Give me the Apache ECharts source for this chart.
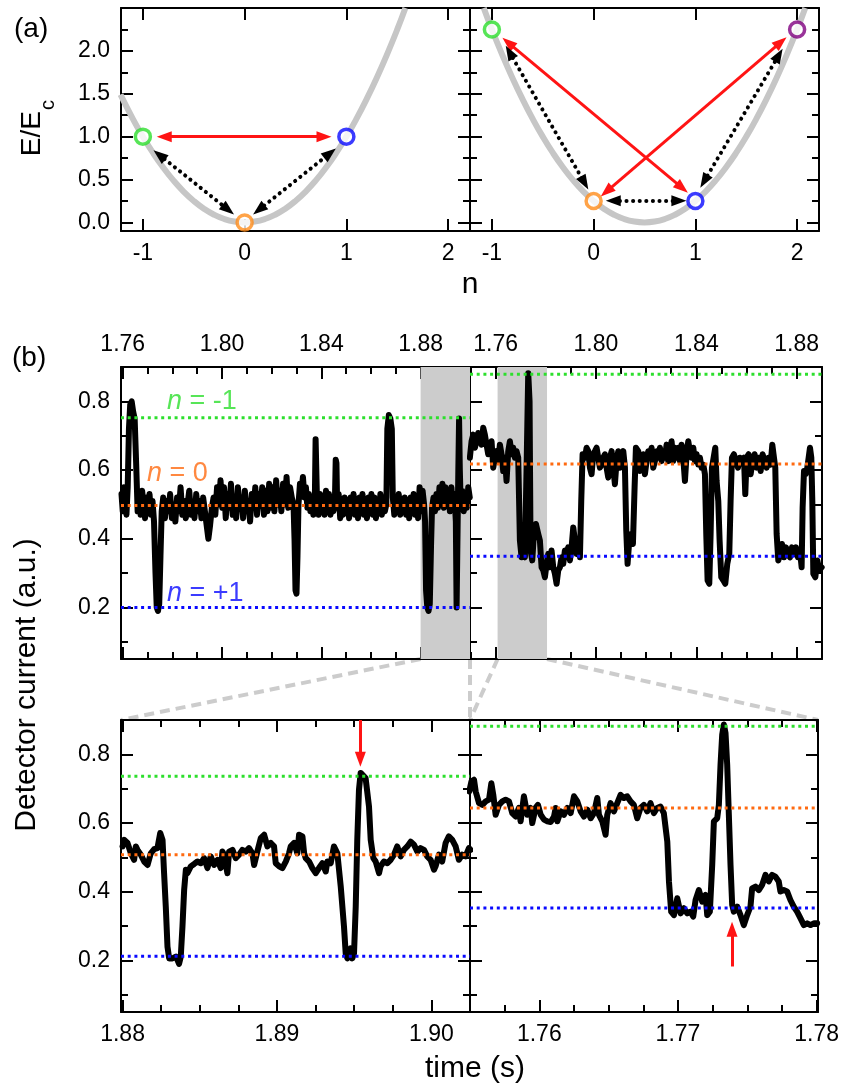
<!DOCTYPE html>
<html><head><meta charset="utf-8">
<script src="https://cdn.jsdelivr.net/npm/echarts@6/dist/echarts.min.js"></script>
<style>html,body{margin:0;padding:0;background:#fff}#c{width:846px;height:1090px}</style>
</head><body><div id="c"></div>
<script>
// ================= DATA =================
// Panel (a): charging-energy parabolas
const parabolaLeftN  = [-1.22,-1.1,-1.0,-0.9,-0.8,-0.7,-0.6,-0.5,-0.4,-0.3,-0.2,-0.1,0,0.1,0.2,0.3,0.4,0.5,0.6,0.7,0.8,0.9,1.0,1.1,1.2,1.3,1.4,1.5,1.58];
const parabolaLeftE  = [1.49,1.21,1.00,0.81,0.64,0.49,0.36,0.25,0.16,0.09,0.04,0.01,0,0.01,0.04,0.09,0.16,0.25,0.36,0.49,0.64,0.81,1.00,1.21,1.44,1.69,1.96,2.25,2.50];
const parabolaRightN = [-1.08,-1.0,-0.9,-0.8,-0.7,-0.6,-0.5,-0.4,-0.3,-0.2,-0.1,0,0.1,0.2,0.3,0.4,0.5,0.6,0.7,0.8,0.9,1.0,1.1,1.2,1.3,1.4,1.5,1.6,1.7,1.8,1.9,2.0,2.08];
const parabolaRightE = [2.50,2.25,1.96,1.69,1.44,1.21,1.00,0.81,0.64,0.49,0.36,0.25,0.16,0.09,0.04,0.01,0,0.01,0.04,0.09,0.16,0.25,0.36,0.49,0.64,0.81,1.00,1.21,1.44,1.69,1.96,2.25,2.50];
const statesLeftN  = [-1, 0, 1];
const statesLeftE  = [1.0, 0.0, 1.0];
const statesRightN = [-1, 0, 1, 2];
const statesRightE = [2.25, 0.25, 0.25, 2.25];
// transition arrows [[n1,E1],[n2,E2]] (arrow-head centres at both ends)
const redArrowsLeft  = [[[-0.79,1.0],[0.78,1.0]]];
const dotArrowsLeft  = [[[-0.838,0.787],[-0.162,0.148]], [[0.141,0.148],[0.839,0.807]]];
const redArrowsRight = [[[-0.84,2.096],[0.87,0.402]], [[0.126,0.36],[1.84,2.103]]];
const dotArrowsRight = [[[-0.827,1.985],[-0.089,0.461]], [[0.193,0.252],[0.838,0.252]], [[1.086,0.48],[1.82,1.95]]];
const aXRange = [-1.215, 2.215];
const aYRange = [-0.1, 2.5];
const aXTicks = [-1, 0, 1, 2];
const aYMajor = [0, 0.5, 1.0, 1.5, 2.0];
const aYMinor = [0.25, 0.75, 1.25, 1.75, 2.25];

// Panel (b): detector current traces
const tlTime = [1.7595,1.7600,1.7605,1.7610,1.7615,1.7620,1.7625,1.7630,1.7636,1.7642,1.7648,1.7654,1.7660,1.7666,1.7672,1.7678,1.7684,1.7690,1.7696,1.7702,1.7708,1.7714,1.7720,1.7726,1.7732,1.7737,1.7742,1.7747,1.7752,1.7757,1.7763,1.7770,1.7777,1.7784,1.7791,1.7798,1.7805,1.7812,1.7819,1.7826,1.7833,1.7840,1.7847,1.7854,1.7861,1.7868,1.7875,1.7882,1.7889,1.7896,1.7903,1.7910,1.7917,1.7924,1.7931,1.7938,1.7945,1.7952,1.7959,1.7966,1.7973,1.7980,1.7987,1.7994,1.8001,1.8008,1.8015,1.8022,1.8029,1.8036,1.8043,1.8050,1.8057,1.8064,1.8071,1.8078,1.8085,1.8092,1.8099,1.8106,1.8113,1.8120,1.8127,1.8134,1.8141,1.8148,1.8155,1.8162,1.8169,1.8176,1.8183,1.8190,1.8197,1.8204,1.8211,1.8218,1.8225,1.8232,1.8239,1.8246,1.8253,1.8260,1.8267,1.8274,1.8281,1.8288,1.8292,1.8296,1.8300,1.8304,1.8308,1.8314,1.8320,1.8326,1.8332,1.8338,1.8344,1.8350,1.8356,1.8362,1.8368,1.8374,1.8377,1.8380,1.8383,1.8389,1.8395,1.8401,1.8407,1.8413,1.8419,1.8425,1.8431,1.8437,1.8443,1.8449,1.8455,1.8458,1.8461,1.8464,1.8470,1.8476,1.8482,1.8488,1.8494,1.8500,1.8506,1.8512,1.8518,1.8524,1.8530,1.8536,1.8542,1.8548,1.8554,1.8560,1.8566,1.8572,1.8578,1.8584,1.8590,1.8596,1.8602,1.8608,1.8614,1.8620,1.8626,1.8632,1.8638,1.8644,1.8650,1.8656,1.8662,1.8666,1.8672,1.8678,1.8684,1.8688,1.8694,1.8700,1.8706,1.8712,1.8718,1.8724,1.8730,1.8736,1.8742,1.8748,1.8754,1.8760,1.8766,1.8772,1.8778,1.8784,1.8790,1.8796,1.8802,1.8808,1.8814,1.8818,1.8822,1.8827,1.8832,1.8837,1.8842,1.8846,1.8852,1.8858,1.8864,1.8870,1.8876,1.8882,1.8888,1.8894,1.8900,1.8906,1.8912,1.8918,1.8924,1.8930,1.8936,1.8942,1.8945,1.8949,1.8952,1.8955,1.8958,1.8962,1.8968,1.8974,1.8980,1.8986,1.8992,1.8998];
const tlValue = [0.53,0.48,0.55,0.50,0.47,0.55,0.72,0.79,0.80,0.77,0.75,0.62,0.48,0.53,0.47,0.54,0.50,0.46,0.52,0.49,0.53,0.47,0.51,0.45,0.30,0.20,0.19,0.21,0.35,0.48,0.52,0.46,0.51,0.48,0.53,0.46,0.50,0.45,0.52,0.48,0.55,0.47,0.51,0.46,0.50,0.54,0.47,0.50,0.46,0.53,0.48,0.51,0.46,0.52,0.48,0.44,0.40,0.44,0.49,0.52,0.47,0.55,0.50,0.57,0.49,0.55,0.46,0.53,0.49,0.56,0.47,0.52,0.46,0.55,0.49,0.52,0.46,0.54,0.48,0.51,0.45,0.53,0.49,0.55,0.47,0.53,0.50,0.55,0.47,0.54,0.48,0.56,0.49,0.55,0.48,0.57,0.50,0.54,0.48,0.56,0.50,0.58,0.49,0.55,0.52,0.50,0.40,0.25,0.24,0.35,0.50,0.56,0.54,0.58,0.52,0.55,0.49,0.53,0.48,0.51,0.47,0.52,0.69,0.69,0.50,0.47,0.53,0.48,0.52,0.47,0.54,0.49,0.53,0.47,0.51,0.48,0.52,0.63,0.62,0.49,0.53,0.46,0.50,0.47,0.52,0.48,0.51,0.46,0.52,0.48,0.53,0.47,0.51,0.46,0.52,0.48,0.53,0.47,0.51,0.46,0.52,0.48,0.53,0.47,0.52,0.46,0.51,0.48,0.53,0.47,0.51,0.48,0.50,0.72,0.76,0.75,0.72,0.52,0.47,0.51,0.48,0.53,0.47,0.51,0.48,0.52,0.47,0.51,0.46,0.52,0.48,0.53,0.47,0.51,0.46,0.55,0.48,0.54,0.50,0.45,0.25,0.20,0.19,0.21,0.38,0.49,0.52,0.48,0.53,0.49,0.55,0.50,0.56,0.49,0.55,0.50,0.54,0.48,0.55,0.49,0.53,0.45,0.20,0.20,0.60,0.75,0.60,0.49,0.54,0.48,0.53,0.49,0.55,0.52];

const trTime = [1.74975,1.75042,1.75108,1.75175,1.75241,1.75308,1.75374,1.75440,1.75507,1.75573,1.75640,1.75706,1.75773,1.75839,1.75906,1.75972,1.76038,1.76105,1.76171,1.76238,1.76304,1.76371,1.76437,1.76504,1.76570,1.76637,1.76703,1.76769,1.76836,1.76902,1.76969,1.77035,1.77102,1.77168,1.77235,1.77301,1.77354,1.77394,1.77461,1.77527,1.77607,1.77700,1.77766,1.77833,1.77899,1.77966,1.78032,1.78098,1.78165,1.78231,1.78298,1.78364,1.78431,1.78497,1.78564,1.78630,1.78696,1.78763,1.78829,1.78896,1.78962,1.79029,1.79095,1.79162,1.79228,1.79294,1.79361,1.79414,1.79468,1.79561,1.79627,1.79693,1.79760,1.79826,1.79893,1.79959,1.80026,1.80092,1.80158,1.80225,1.80291,1.80358,1.80424,1.80491,1.80557,1.80624,1.80690,1.80756,1.80823,1.80889,1.80956,1.81022,1.81089,1.81155,1.81208,1.81261,1.81328,1.81408,1.81474,1.81540,1.81593,1.81687,1.81753,1.81819,1.81886,1.81952,1.82019,1.82085,1.82152,1.82218,1.82284,1.82351,1.82417,1.82484,1.82550,1.82617,1.82683,1.82750,1.82816,1.82882,1.82949,1.83015,1.83082,1.83148,1.83215,1.83281,1.83348,1.83414,1.83480,1.83547,1.83613,1.83680,1.83746,1.83813,1.83879,1.83946,1.84012,1.84078,1.84145,1.84211,1.84278,1.84344,1.84397,1.84450,1.84517,1.84570,1.84623,1.84690,1.84756,1.84809,1.84876,1.84929,1.84995,1.85075,1.85155,1.85234,1.85314,1.85367,1.85421,1.85500,1.85580,1.85660,1.85740,1.85819,1.85899,1.85952,1.86006,1.86085,1.86165,1.86245,1.86324,1.86404,1.86484,1.86564,1.86643,1.86723,1.86803,1.86882,1.86962,1.87029,1.87095,1.87148,1.87202,1.87268,1.87335,1.87415,1.87494,1.87574,1.87654,1.87733,1.87813,1.87893,1.87973,1.88052,1.88132,1.88198,1.88238,1.88292,1.88358,1.88424,1.88478,1.88531,1.88584,1.88624,1.88664,1.88744,1.88824,1.88903,1.88996];
const trValue = [0.636,0.684,0.703,0.665,0.684,0.708,0.713,0.674,0.723,0.703,0.674,0.646,0.665,0.684,0.607,0.636,0.655,0.626,0.674,0.646,0.597,0.636,0.568,0.655,0.684,0.646,0.665,0.636,0.655,0.636,0.395,0.346,0.356,0.346,0.607,0.882,0.800,0.366,0.337,0.414,0.443,0.414,0.395,0.317,0.308,0.288,0.327,0.356,0.317,0.366,0.317,0.298,0.269,0.308,0.317,0.346,0.327,0.366,0.356,0.375,0.337,0.375,0.433,0.395,0.356,0.375,0.346,0.510,0.646,0.636,0.665,0.655,0.607,0.588,0.646,0.655,0.665,0.636,0.607,0.616,0.636,0.646,0.607,0.578,0.636,0.655,0.607,0.559,0.626,0.655,0.607,0.636,0.655,0.607,0.424,0.327,0.395,0.414,0.385,0.549,0.665,0.655,0.597,0.616,0.646,0.588,0.626,0.655,0.636,0.665,0.607,0.626,0.655,0.636,0.665,0.626,0.655,0.636,0.674,0.626,0.655,0.684,0.626,0.665,0.636,0.665,0.626,0.674,0.636,0.568,0.646,0.684,0.655,0.636,0.665,0.626,0.646,0.616,0.636,0.607,0.616,0.588,0.414,0.279,0.269,0.414,0.607,0.636,0.665,0.568,0.510,0.395,0.288,0.279,0.269,0.327,0.356,0.510,0.636,0.646,0.626,0.607,0.636,0.626,0.636,0.530,0.636,0.646,0.588,0.626,0.646,0.607,0.636,0.597,0.646,0.626,0.607,0.636,0.616,0.674,0.636,0.607,0.414,0.337,0.356,0.385,0.346,0.375,0.356,0.346,0.375,0.356,0.375,0.346,0.366,0.317,0.491,0.597,0.588,0.607,0.636,0.665,0.636,0.510,0.298,0.288,0.337,0.308,0.317];

const blTime = [1.8800,1.88011,1.88032,1.88054,1.88075,1.88086,1.88097,1.88118,1.88140,1.88162,1.88183,1.88205,1.88226,1.88244,1.88259,1.88269,1.88280,1.88291,1.88302,1.88323,1.88345,1.88356,1.88366,1.88377,1.88388,1.88399,1.88410,1.88420,1.88442,1.88464,1.88485,1.88507,1.88528,1.88550,1.88571,1.88593,1.88615,1.88636,1.88647,1.88658,1.88679,1.88690,1.88712,1.88733,1.88755,1.88776,1.88798,1.88819,1.88841,1.88852,1.88873,1.88895,1.88917,1.88938,1.88960,1.88981,1.88992,1.89014,1.89035,1.89057,1.89078,1.89089,1.89111,1.89132,1.89143,1.89165,1.89176,1.89186,1.89208,1.89229,1.89251,1.89272,1.89294,1.89316,1.89326,1.89348,1.89369,1.89391,1.89413,1.89434,1.89445,1.89456,1.89477,1.89488,1.89499,1.89510,1.89520,1.89531,1.89542,1.89553,1.89574,1.89596,1.89607,1.89624,1.89639,1.89650,1.89661,1.89671,1.89693,1.89715,1.89736,1.89758,1.89779,1.89801,1.89822,1.89844,1.89866,1.89887,1.89909,1.89930,1.89952,1.89973,1.89995,1.90017,1.90027,1.90049,1.90070,1.90092,1.90113,1.90135,1.90157,1.90178,1.90200,1.90221,1.90243,1.90254];
const blValue = [0.532,0.551,0.542,0.512,0.493,0.532,0.522,0.508,0.488,0.478,0.512,0.524,0.527,0.571,0.551,0.454,0.357,0.240,0.206,0.206,0.211,0.201,0.190,0.211,0.299,0.406,0.464,0.454,0.474,0.481,0.488,0.483,0.498,0.469,0.503,0.478,0.493,0.469,0.517,0.508,0.454,0.517,0.522,0.498,0.508,0.522,0.517,0.527,0.512,0.478,0.517,0.556,0.566,0.532,0.542,0.532,0.483,0.474,0.469,0.488,0.512,0.532,0.542,0.512,0.566,0.561,0.512,0.498,0.488,0.469,0.454,0.469,0.483,0.459,0.488,0.483,0.532,0.512,0.415,0.299,0.221,0.206,0.235,0.206,0.221,0.357,0.551,0.697,0.746,0.746,0.731,0.648,0.551,0.498,0.488,0.493,0.454,0.474,0.488,0.483,0.493,0.508,0.532,0.503,0.522,0.532,0.546,0.537,0.517,0.527,0.522,0.503,0.493,0.464,0.474,0.508,0.488,0.542,0.561,0.551,0.532,0.493,0.508,0.503,0.527,0.522];

const brTime = [1.75495,1.75510,1.75529,1.75541,1.75565,1.75589,1.75613,1.75637,1.75654,1.75668,1.75685,1.75709,1.75733,1.75757,1.75781,1.75805,1.75829,1.75853,1.75865,1.75889,1.75913,1.75937,1.75949,1.75973,1.75990,1.76010,1.76034,1.76058,1.76082,1.76106,1.76118,1.76130,1.76154,1.76178,1.76202,1.76226,1.76250,1.76274,1.76298,1.76322,1.76346,1.76370,1.76394,1.76418,1.76430,1.76454,1.76478,1.76490,1.76514,1.76538,1.76562,1.76586,1.76610,1.76634,1.76658,1.76682,1.76706,1.76730,1.76754,1.76778,1.76802,1.76826,1.76850,1.76874,1.76898,1.76923,1.76935,1.76951,1.76971,1.76995,1.77019,1.77043,1.77067,1.77091,1.77110,1.77127,1.77151,1.77175,1.77199,1.77211,1.77230,1.77247,1.77259,1.77283,1.77295,1.77307,1.77319,1.77331,1.77343,1.77355,1.77367,1.77379,1.77391,1.77403,1.77427,1.77451,1.77475,1.77499,1.77523,1.77535,1.77559,1.77583,1.77607,1.77631,1.77655,1.77679,1.77703,1.77727,1.77739,1.77763,1.77787,1.77811,1.77835,1.77859,1.77883,1.77908,1.77932,1.77956,1.77980,1.78004];
const brValue = [0.692,0.721,0.726,0.692,0.658,0.653,0.663,0.668,0.716,0.682,0.624,0.653,0.663,0.668,0.663,0.629,0.619,0.644,0.605,0.678,0.624,0.644,0.600,0.644,0.653,0.624,0.610,0.605,0.603,0.619,0.644,0.605,0.634,0.624,0.644,0.629,0.678,0.663,0.634,0.619,0.639,0.614,0.629,0.673,0.624,0.605,0.566,0.624,0.658,0.634,0.658,0.682,0.673,0.678,0.663,0.653,0.614,0.644,0.653,0.634,0.658,0.629,0.644,0.648,0.629,0.546,0.430,0.342,0.332,0.381,0.337,0.352,0.337,0.342,0.328,0.376,0.405,0.371,0.391,0.332,0.342,0.478,0.605,0.614,0.653,0.770,0.857,0.887,0.862,0.770,0.624,0.478,0.362,0.342,0.357,0.332,0.303,0.332,0.357,0.410,0.415,0.405,0.420,0.449,0.430,0.449,0.444,0.430,0.401,0.405,0.401,0.376,0.357,0.342,0.323,0.303,0.308,0.303,0.308,0.308];

// charge-state levels (n = -1, 0, +1) per panel
const levelNames = ['n = -1', 'n = 0', 'n = +1'];
const levelsTL = [0.752, 0.497, 0.200];
const levelsTR = [0.879, 0.618, 0.349];
const levelsBL = [0.736, 0.508, 0.212];
const levelsBR = [0.882, 0.644, 0.353];
const levelLabelT = [1.7778, 1.7698, 1.7778];
const levelLabelV = [0.800, 0.590, 0.241];

const bYRange  = [0.05, 0.90];
const tlXRange = [1.7593, 1.8999];
const trXRange = [1.7498, 1.8901];
const blXRange = [1.8799, 1.9025];
const brXRange = [1.7550, 1.7801];
const bYMajor = [0.2, 0.4, 0.6, 0.8];
const bYMinor = [0.1, 0.3, 0.5, 0.7, 0.9];
const topXMajor = [1.76, 1.80, 1.84, 1.88];
const topXMinor = [1.75, 1.77, 1.78, 1.79, 1.81, 1.82, 1.83, 1.85, 1.86, 1.87, 1.89];
const blXMajor = [1.88, 1.89, 1.90];
const blXMinor = [1.8825, 1.885, 1.8875, 1.8925, 1.895, 1.8975, 1.9025];
const brXMajor = [1.76, 1.77, 1.78];
const brXMinor = [1.755, 1.7575, 1.7625, 1.765, 1.7675, 1.7725, 1.775, 1.7775];
const shadeTL = [1.8800, 1.8999];
const shadeTR = [1.7608, 1.7805];
const arrowBL = [[1.8954, 0.90], [1.8954, 0.786]];
const arrowBR = [[1.7739, 0.1825], [1.7739, 0.291]];

// ================= STYLE =================
const FONT = "'Liberation Sans', Arial, Helvetica, sans-serif";
const GREEN = '#2ddf2d', ORANGE = '#ff6a10', ORANGE_C = '#ff8c1a', BLUE = '#0a0aff', PURPLE = '#800080';
const RED = '#ff1414', GRAY = '#c6c6c6', SHADE = '#cccccc';
const stateColor = {'-1': GREEN, '0': ORANGE_C, '1': BLUE, '2': PURPLE};
const levelColor = [GREEN, ORANGE, BLUE];

const gridRects = [
  {left:121, top:8,   width:349, height:223},
  {left:470, top:8,   width:349, height:223},
  {left:121, top:367, width:349, height:292},
  {left:470, top:367, width:352, height:292},
  {left:121, top:720, width:349, height:292},
  {left:470, top:720, width:348, height:292}
];
const f1 = v => v.toFixed(1), f2 = v => v.toFixed(2), fi = v => String(v);
const specs = [
  {xr:aXRange, yr:aYRange, xMaj:aXTicks, xMin:[], yMaj:aYMajor, yMin:aYMinor, xLab:'bottom', yLab:'left', xf:fi, yf:f1},
  {xr:aXRange, yr:aYRange, xMaj:aXTicks, xMin:[], yMaj:aYMajor, yMin:aYMinor, xLab:'bottom', yLab:null, xf:fi, yf:f1},
  {xr:tlXRange, yr:bYRange, xMaj:topXMajor, xMin:topXMinor, yMaj:bYMajor, yMin:bYMinor, xLab:'top', yLab:'left', xf:f2, yf:f1},
  {xr:trXRange, yr:bYRange, xMaj:topXMajor, xMin:topXMinor, yMaj:bYMajor, yMin:bYMinor, xLab:'top', yLab:null, xf:f2, yf:f1},
  {xr:blXRange, yr:bYRange, xMaj:blXMajor, xMin:blXMinor, yMaj:bYMajor, yMin:bYMinor, xLab:'bottom', yLab:'left', xf:f2, yf:f1},
  {xr:brXRange, yr:bYRange, xMaj:brXMajor, xMin:brXMinor, yMaj:bYMajor, yMin:bYMinor, xLab:'bottom', yLab:null, xf:f2, yf:f1}
];

function mkAxis(gi, range, pos, ticks, len, fmt, showLine) {
  return {
    gridIndex: gi, type: 'value', position: pos, min: range[0], max: range[1],
    splitLine: {show:false}, splitArea: {show:false}, minorTick: {show:false}, minorSplitLine: {show:false},
    axisLine: {show: showLine, onZero: false, lineStyle: {color:'#000', width:2}},
    axisTick: ticks.length ? {show:true, inside:true, length:len, customValues:ticks, lineStyle:{color:'#000', width:2}} : {show:false},
    axisLabel: fmt ? {show:true, customValues:ticks, formatter:fmt, margin:11, color:'#000', fontSize:23, fontFamily:FONT} : {show:false},
    axisPointer: {show:false}, silent: true
  };
}
const xAxes = [], yAxes = [];
specs.forEach((s, gi) => {
  ['bottom','top'].forEach(p => {
    xAxes.push(mkAxis(gi, s.xr, p, s.xMaj, 12, s.xLab === p ? s.xf : null, true));
    xAxes.push(mkAxis(gi, s.xr, p, s.xMin, 7, null, false));
  });
  ['left','right'].forEach(p => {
    yAxes.push(mkAxis(gi, s.yr, p, s.yMaj, 12, s.yLab === p ? s.yf : null, true));
    yAxes.push(mkAxis(gi, s.yr, p, s.yMin, 7, null, false));
  });
});
const ax = gi => ({xAxisIndex: gi*4, yAxisIndex: gi*4});
const zip = (a, b) => a.map((v, i) => [v, b[i]]);

const series = [];
function arrowSeries(gi, arrows, lineStyle, symbols, size) {
  series.push(Object.assign({
    type:'line', data:[], silent:true, animation:false,
    markLine: {
      silent:true, animation:false, symbol: symbols, symbolSize: size,
      label:{show:false}, emphasis:{disabled:true},
      lineStyle: Object.assign({opacity:1}, lineStyle),
      data: arrows.map(a => [{coord:a[0]}, {coord:a[1]}])
    }
  }, ax(gi)));
}
const redLine = {color:RED, width:3, type:'solid'};
const dotLine = {color:'#000', width:4, type:[0.1,6.5], cap:'round'};
// Panel (a)
[[parabolaLeftN, parabolaLeftE, statesLeftN, statesLeftE, redArrowsLeft, dotArrowsLeft],
 [parabolaRightN, parabolaRightE, statesRightN, statesRightE, redArrowsRight, dotArrowsRight]].forEach((d, gi) => {
  series.push(Object.assign({type:'line', data: zip(d[0], d[1]), smooth:true, symbol:'none',
    lineStyle:{color:GRAY, width:6}, z:2, silent:true}, ax(gi)));
  arrowSeries(gi, d[4], redLine, ['triangle','triangle'], [11,15]);
  arrowSeries(gi, d[5], dotLine, ['triangle','triangle'], [11,15]);
  series.push(Object.assign({type:'scatter', symbol:'circle', symbolSize:15, z:6, silent:true,
    data: d[2].map((n, i) => ({value:[n, d[3][i]], itemStyle:{borderColor: stateColor[String(n)]}})),
    itemStyle:{color:'#fff', borderWidth:3.5}}, ax(gi)));
});
// Panel (b)
const traces = [[tlTime, tlValue, levelsTL, tlXRange, shadeTL],
                [trTime, trValue, levelsTR, trXRange, shadeTR],
                [blTime, blValue, levelsBL, blXRange, null],
                [brTime, brValue, levelsBR, brXRange, null]];
traces.forEach((d, k) => {
  const gi = k + 2;
  if (d[4]) {
    series.push(Object.assign({type:'line', data:[], silent:true, z:0,
      markArea:{silent:true, itemStyle:{color:SHADE}, data:[[{xAxis:d[4][0]}, {xAxis:d[4][1]}]]}}, ax(gi)));
  }
  series.push(Object.assign({type:'line', data: zip(d[0], d[1]), symbol:'none', silent:true, z:2,
    lineStyle:{color:'#000', width:6, join:'round', cap:'round'}}, ax(gi)));
  d[2].forEach((lv, j) => {
    series.push(Object.assign({type:'line', data:[[d[3][0], lv], [d[3][1], lv]], symbol:'none', silent:true, z:3,
      lineStyle:{color: levelColor[j], width:3, type:[3,3.7]}}, ax(gi)));
  });
});
// level labels in top-left panel
series.push(Object.assign({type:'scatter', symbolSize:0, silent:true, z:5,
  data: levelNames.map((t, j) => ({
    value:[levelLabelT[j], levelLabelV[j]],
    label:{show:true, position:'right', distance:0, color:levelColor[j], fontSize:27, fontFamily:FONT,
      formatter: '{i|n}' + t.slice(1),
      rich:{i:{fontStyle:'italic', color:levelColor[j], fontSize:27, fontFamily:FONT}}}
  }))}, ax(2)));
arrowSeries(4, [arrowBL], redLine, ['none','triangle'], [11,15]);
arrowSeries(5, [arrowBR], redLine, ['none','triangle'], [11,15]);

const txt = (id, x, y, text, size, rot, align) => ({
  type:'text', id, x, y, rotation: rot || 0, silent:true, z:10,
  style:{text, fontSize:size, fontFamily:FONT, fill:'#000', align: align || 'center', verticalAlign:'middle'}
});

const option = {
  animation:false,
  textStyle:{fontFamily:FONT},
  grid: gridRects.map(r => Object.assign({containLabel:false, outerBoundsMode:'none', show:false}, r)),
  xAxis: xAxes, yAxis: yAxes, series,
  graphic: [
    txt('ta', 14, 29, '(a)', 28, 0, 'left'),
    txt('tb', 12, 358, '(b)', 28, 0, 'left'),
    txt('ty1', 32, 111, 'E/E', 28, Math.PI/2, 'right'),
    txt('ty2', 48, 110, 'c', 20, Math.PI/2, 'left'),
    txt('tn', 470, 285, 'n', 30),
    txt('tdc', 27, 685, 'Detector current (a.u.)', 30, Math.PI/2),
    txt('tt', 475, 1069, 'time (s)', 30)
  ]
};
const chart = echarts.init(document.getElementById('c'), null, {renderer:'canvas'});
chart.setOption(option);

// dashed zoom connectors, positioned through the axes' scales
const px = (gi, p) => chart.convertToPixel(ax(gi), p);
const conn = [
  [px(2, [shadeTL[0], bYRange[0]]), px(4, [blXRange[0], bYRange[1]])],
  [px(2, [shadeTL[1], bYRange[0]]), px(4, [blXRange[1], bYRange[1]])],
  [px(3, [shadeTR[0], bYRange[0]]), px(5, [brXRange[0], bYRange[1]])],
  [px(3, [shadeTR[1], bYRange[0]]), px(5, [brXRange[1], bYRange[1]])]
];
chart.setOption({graphic: conn.map((c, i) => ({
  type:'line', id:'conn'+i, silent:true, z:0,
  shape:{x1:c[0][0], y1:c[0][1], x2:c[1][0], y2:c[1][1]},
  style:{stroke:SHADE, lineWidth:4, lineDash:[10,6]}
}))});
</script></body></html>
